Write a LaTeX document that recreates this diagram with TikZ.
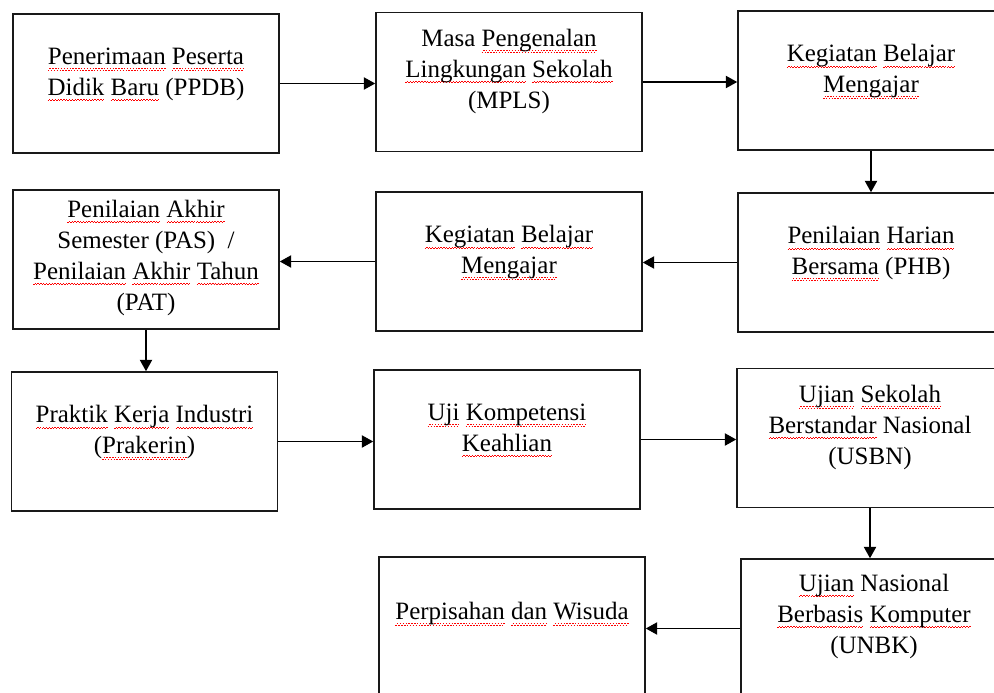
\documentclass[tikz,border=0pt]{standalone}
\usepackage{fontspec}
\setmainfont{Liberation Serif}
\usepackage{xcolor}
\usepackage{tikz}
\usetikzlibrary{arrows.meta,positioning,calc}
\newsavebox{\sqbox}
\newcommand{\sqdot}[1]{\textcolor{red}{\rule[#1]{0.8pt}{0.55pt}}}
\newcommand{\sq}[1]{\sbox{\sqbox}{#1}\rlap{\hbox to \wd\sqbox{\xleaders\hbox{\sqdot{-3.4pt}\sqdot{-2.6pt}}\hfill}}\usebox{\sqbox}}

\begin{document}
\begin{tikzpicture}[
    x=0.02cm, y=-0.02cm,
    box/.style={rectangle, draw=black!90, line width=0.9pt, minimum width=266*0.02cm, minimum height=139*0.02cm, inner sep=0pt},
    txt/.style={align=center, inner sep=0pt, font=\fontsize{14.2}{17.6}\selectfont},
    arrow/.style={-{Triangle[length=6.5pt,width=7pt]}, line width=0.8pt}
]
\useasboundingbox (0,0) rectangle (994,693);
\clip (0,0) rectangle (994,693);

\node[box] (ppdb) at (146,83.5) {};
\node[box] (mpls) at (509,82) {};
\node[box] (kbm1) at (871,80.5) {};
\node[box] (pas) at (146,259.5) {};
\node[box] (kbm2) at (509,261.5) {};
\node[box] (phb) at (871,262.5) {};
\node[box] (prak) at (144.5,441.5) {};
\node[box] (ukk) at (507,439.5) {};
\node[box] (usbn) at (870,438) {};
\node[box] (wisuda) at (512,626.5) {};
\node[box] (unbk) at (874,628.5) {};

\node[txt] (ppdbT) at ([yshift=5pt]ppdb.center) {\sq{Penerimaan} \sq{Peserta}\\\sq{Didik} \sq{Baru} (PPDB)};
\node[txt] (mplsT) at ([yshift=6pt]mpls.center) {Masa \sq{Pengenalan}\\\sq{Lingkungan} \sq{Sekolah}\\(MPLS)};
\node[txt] (kbm1T) at ([yshift=5pt]kbm1.center) {\sq{Kegiatan} \sq{Belajar}\\\sq{Mengajar}};
\node[txt] (pasT) at ([yshift=1pt]pas.center) {\sq{Penilaian} \sq{Akhir}\\Semester (PAS) \ /\\\sq{Penilaian} \sq{Akhir} \sq{Tahun}\\(PAT)};
\node[txt] (kbm2T) at ([yshift=5pt]kbm2.center) {\sq{Kegiatan} \sq{Belajar}\\\sq{Mengajar}};
\node[txt] (phbT) at ([yshift=5pt]phb.center) {\sq{Penilaian} \sq{Harian}\\\sq{Bersama} (PHB)};
\node[txt] (prakT) at ([yshift=5pt]prak.center) {\sq{Praktik} \sq{Kerja} \sq{Industri}\\(\sq{Prakerin})};
\node[txt] (ukkT) at ([yshift=5pt]ukk.center) {\sq{Uji} \sq{Kompetensi}\\\sq{Keahlian}};
\node[txt] (usbnT) at ([yshift=6pt]usbn.center) {\sq{Ujian} \sq{Sekolah}\\\sq{Berstandar} Nasional\\(USBN)};
\node[txt] (wisudaT) at ([yshift=7pt]wisuda.center) {\sq{Perpisahan} \sq{dan} \sq{Wisuda}};
\node[txt] (unbkT) at ([yshift=7pt]unbk.center) {\sq{Ujian} Nasional\\\sq{Berbasis} \sq{Komputer}\\(UNBK)};

\draw[arrow] (ppdb.east) -- (ppdb.east -| mpls.west);
\draw[arrow] (mpls.east) -- (mpls.east -| kbm1.west);
\draw[arrow] (kbm1.south) -- (phb.north);
\draw[arrow] (phb.west) -- (phb.west -| kbm2.east);
\draw[arrow] (kbm2.west) -- (kbm2.west -| pas.east);
\draw[arrow] (pas.south) -- (pas.south |- prak.north);
\draw[arrow] (prak.east) -- (prak.east -| ukk.west);
\draw[arrow] (ukk.east) -- (ukk.east -| usbn.west);
\draw[arrow] (usbn.south) -- (usbn.south |- unbk.north);
\draw[arrow] (unbk.west) -- (unbk.west -| wisuda.east);
\end{tikzpicture}
\end{document}
